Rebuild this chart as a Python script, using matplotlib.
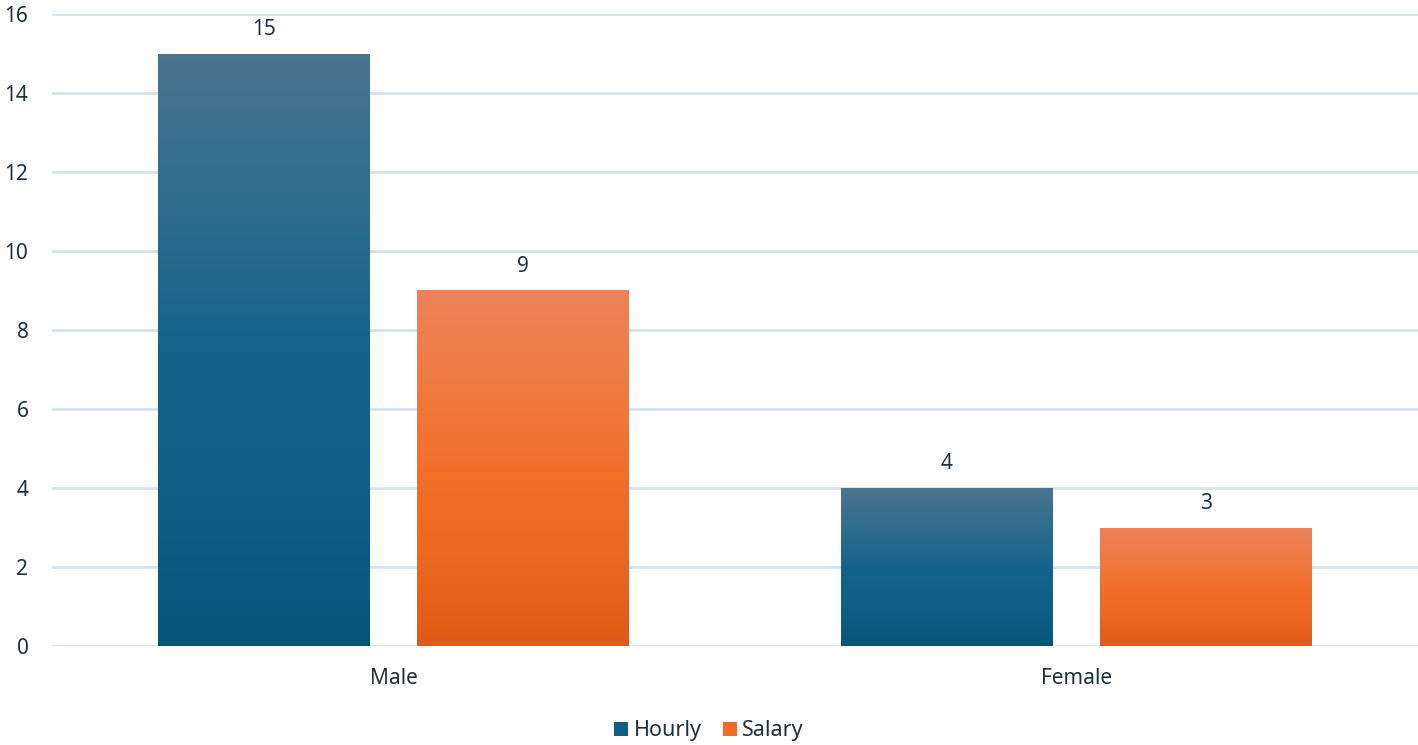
import numpy as np
import matplotlib
matplotlib.use("Agg")
import matplotlib.pyplot as plt
from matplotlib.colors import LinearSegmentedColormap

categories = ["Male", "Female"]
series_names = ["Hourly", "Salary"]
hourly = [15, 4]
salary = [9, 3]
y_ticks = [0, 2, 4, 6, 8, 10, 12, 14, 16]

plt.rcParams["font.family"] = ["Noto Sans", "DejaVu Sans"]
text_color = "#1f2f45"

# vertical gradients: index 0 = bottom of bar, 1 = top
blue_cmap = LinearSegmentedColormap.from_list(
    "blue_grad", ["#09557a", "#0f5f85", "#15648b", "#2f6d8d", "#4b7591"])
orange_cmap = LinearSegmentedColormap.from_list(
    "orange_grad", ["#df5b17", "#ea6822", "#f26f2a", "#ef7b42", "#ec8259"])

fig = plt.figure(figsize=(14.18, 7.45), dpi=100)
ax = fig.add_axes([52 / 1418, 1 - 646 / 745, 1 - 52 / 1418, (646 - 14) / 745])

x = np.arange(len(categories))
offset = 0.19
width = 0.31

grad = np.linspace(0, 1, 256).reshape(-1, 1)
for vals, dx, cmap, name, solid in [
    (hourly, -offset, blue_cmap, series_names[0], "#0f5f85"),
    (salary, offset, orange_cmap, series_names[1], "#f06c26"),
]:
    bars = ax.bar(x + dx, vals, width, color="none", edgecolor="none", zorder=3)
    for b, v in zip(bars, vals):
        x0, w, h = b.get_x(), b.get_width(), b.get_height()
        im = ax.imshow(grad, cmap=cmap, origin="lower", aspect="auto",
                       extent=[x0, x0 + w, 0, h], zorder=3, interpolation="bicubic")
        im.set_clip_path(b)
        ax.annotate(f"{v}", (x0 + w / 2, h), xytext=(0, 17.5), textcoords="offset points",
                    ha="center", va="center", fontsize=15, color=text_color)
    ax.bar([0], [0], color=solid, label=name)

ax.set_xlim(-0.5, 1.5)
ax.set_ylim(0, 16)
ax.set_yticks(y_ticks)
ax.set_xticks(x)
ax.set_xticklabels(categories)
ax.tick_params(axis="both", length=0, labelsize=15, colors=text_color)
ax.tick_params(axis="y", pad=17)
ax.tick_params(axis="x", pad=16)
ax.grid(axis="y", color="#d3e2f2", linewidth=2, zorder=0)
ax.set_axisbelow(True)
for s in ax.spines.values():
    s.set_visible(False)

fig.legend(loc="lower center", bbox_to_anchor=(0.5, -0.021), ncol=2, frameon=False,
           fontsize=15.5, handlelength=0.65, handleheight=0.65, handletextpad=0.25,
           columnspacing=1.0, labelcolor=text_color)

fig.savefig("out.png", dpi=100, facecolor="white")
